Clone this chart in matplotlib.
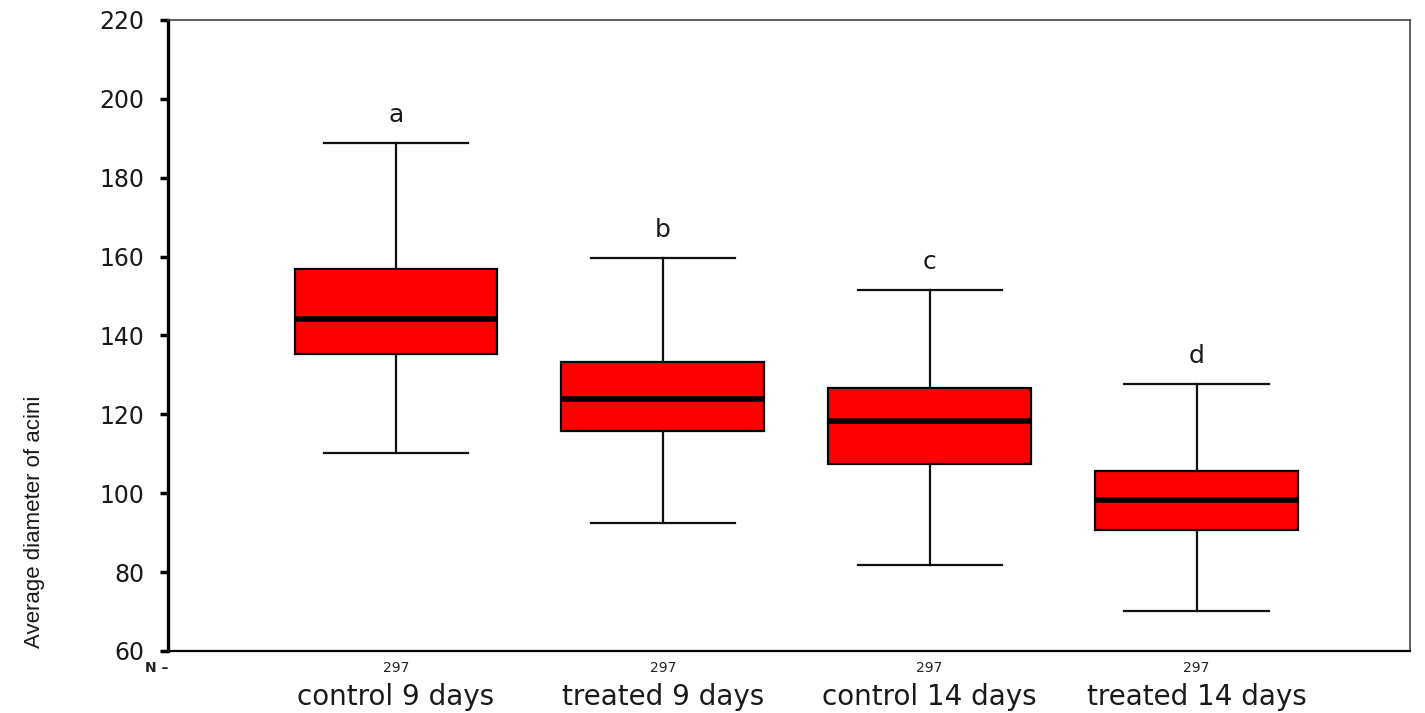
import matplotlib
matplotlib.use("Agg")
import matplotlib.pyplot as plt
import matplotlib.transforms as mtransforms

# Box summary per group (whisker low, Q1, median, Q3, whisker high)
groups = ["control 9 days", "treated 9 days", "control 14 days", "treated 14 days"]
whislo = [110.2, 92.4, 81.8, 70.1]
q1 = [135.3, 115.8, 107.4, 90.6]
med = [144.2, 123.9, 118.3, 98.3]
q3 = [156.9, 133.3, 126.7, 105.6]
whishi = [188.8, 159.6, 151.5, 127.7]
counts = [297, 297, 297, 297]
letters = ["a", "b", "c", "d"]

BOX_RED = "#ff0000"
TEXT = "#1a1a1a"

fig = plt.figure(figsize=(14.25, 7.13), dpi=100)
ax = fig.add_axes([0.1179, 0.087, 0.8716, 0.885])

stats = [
    {"whislo": lo, "q1": a, "med": m, "q3": b, "whishi": hi, "fliers": []}
    for lo, a, m, b, hi in zip(whislo, q1, med, q3, whishi)
]
positions = list(range(1, len(groups) + 1))
ax.bxp(
    stats, positions=positions, widths=0.76, capwidths=0.54,
    patch_artist=True, showfliers=False,
    boxprops=dict(facecolor=BOX_RED, edgecolor="black", linewidth=1.6),
    medianprops=dict(color="black", linewidth=4),
    whiskerprops=dict(color="#111", linewidth=1.6),
    capprops=dict(color="#111", linewidth=1.6),
)

# significance letters above the upper whiskers
for x, hi, lab in zip(positions, whishi, letters):
    ax.text(x, hi + 4, lab, ha="center", va="bottom", fontsize=18, color=TEXT)

ax.set_ylim(60, 220)
ax.set_xlim(0.146, 4.8)
ax.set_yticks(range(60, 221, 20))
ax.tick_params(axis="y", direction="out", length=6, width=2.5, pad=11,
               labelsize=17, colors="black", labelcolor=TEXT)
ax.tick_params(axis="x", length=0, labelbottom=False)

ax.spines["left"].set_linewidth(2.4)
ax.spines["bottom"].set_linewidth(1.6)
for side in ("top", "right"):
    ax.spines[side].set_linewidth(1.2)
    ax.spines[side].set_color("#444")

# N row and group names under the axis
trans = mtransforms.blended_transform_factory(ax.transData, ax.transAxes)
for x, n, g in zip(positions, counts, groups):
    ax.text(x, -0.027, str(n), transform=trans, ha="center", va="center",
            fontsize=10, color="#222")
    ax.text(x, -0.073, g, transform=trans, ha="center", va="center",
            fontsize=20, color=TEXT)
ax.text(0.146, -0.027, "N \u2013", transform=trans, ha="right", va="center",
        fontsize=10, fontweight="bold", color="#222")

fig.text(35 / 1425, 1 - 522 / 713, "Average diameter of acini", rotation=90,
         ha="center", va="center", fontsize=16, family="Liberation Sans",
         color=TEXT)

fig.savefig("out.png", dpi=100, facecolor="white")
plt.close(fig)
